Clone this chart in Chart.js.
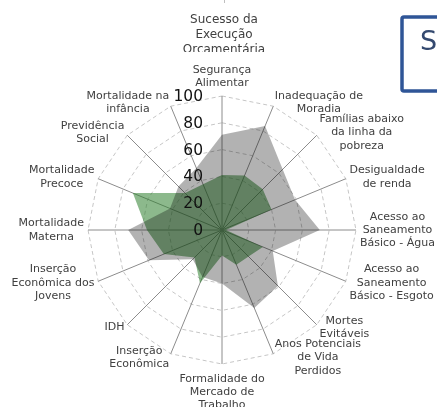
<!DOCTYPE html>
<html lang="pt">
<head>
<meta charset="utf-8">
<title>Radar</title>
<script src="https://cdn.jsdelivr.net/npm/chart.js@4.4.1/dist/chart.umd.min.js"></script>
<style>
    html, body { margin: 0; padding: 0; background: #ffffff; }
    #wrap { width: 437px; height: 407px; position: relative; }
</style>
</head>
<body>
<div id="wrap"><canvas id="radarChart" width="437" height="407"></canvas></div>
<script>
const categories = [
    ['Segurança', 'Alimentar'],
    ['Inadequação de', 'Moradia'],
    ['Famílias abaixo', 'da linha da', 'pobreza'],
    ['Desigualdade', 'de renda'],
    ['Acesso ao', 'Saneamento', 'Básico - Água'],
    ['Acesso ao', 'Saneamento', 'Básico - Esgoto'],
    ['Mortes', 'Evitáveis'],
    ['Anos Potenciais', 'de Vida', 'Perdidos'],
    ['Formalidade do', 'Mercado de', 'Trabalho'],
    ['Inserção', 'Econômica'],
    ['IDH'],
    ['Inserção', 'Econômica dos', 'Jovens'],
    ['Mortalidade', 'Materna'],
    ['Mortalidade', 'Precoce'],
    ['Previdência', 'Social'],
    ['Mortalidade na', 'infância']
];
const seriesNames = ['Série 1', 'Série 2'];
const grayValues = [71, 84, 64, 59, 73, 41, 59, 63, 40, 38, 31, 59, 70, 42, 46, 50];
const greenValues = [41, 44, 43, 40, 3, 33, 28, 28, 19, 43, 29, 47, 56, 72, 39, 37];
const tickValues = [0, 20, 40, 60, 80, 100];
const neighbourTitle = ['Sucesso da', 'Execução', 'Orçamentária'];
const boxTitle = 'S';

document.addEventListener("DOMContentLoaded", function () {

    function drawTicks(ctx, scale) {
        ctx.save();
        ctx.font = '15.5px "DejaVu Sans"';
        ctx.fillStyle = '#111111';
        ctx.textAlign = 'right';
        ctx.textBaseline = 'middle';
        tickValues.forEach(value => {
            const y = scale.yCenter - scale.getDistanceFromCenterForValue(value);
            ctx.fillText(String(value), scale.xCenter - 19, y + 1);
        });
        ctx.restore();
    }

    function drawPointLabels(ctx, scale, width) {
        const count = categories.length;
        const lineHeight = 13.3;
        ctx.save();
        ctx.font = '11px "DejaVu Sans"';
        ctx.fillStyle = '#404040';
        ctx.textAlign = 'center';
        ctx.textBaseline = 'middle';
        categories.forEach((lines, i) => {
            const rad = i * 2 * Math.PI / count;
            const sin = Math.sin(rad);
            const cos = Math.cos(rad);
            const pos = scale.getPointPosition(i, scale.drawingArea + 4);
            const w = Math.max(...lines.map(line => ctx.measureText(line).width));
            const h = lines.length * lineHeight;

            let left;
            if (sin > 0.01) {
                left = pos.x;
            } else if (sin < -0.01) {
                left = pos.x - w;
            } else {
                left = pos.x - w / 2;
            }
            left = Math.min(Math.max(left, 2), width - 2 - w);

            let top;
            if (cos > 0.99) {
                top = pos.y - 2 - h;
            } else if (cos < -0.99) {
                top = pos.y + 4;
            } else {
                top = pos.y - h / 2;
            }

            lines.forEach((line, j) => {
                ctx.fillText(line, left + w / 2, top + lineHeight * (j + 0.5));
            });
        });
        ctx.restore();
    }

    // bits of the neighbouring chart and title box that the crop cuts through
    function drawNeighbours(ctx, chart) {
        ctx.save();
        ctx.beginPath();
        ctx.rect(0, 0, chart.width, 52);
        ctx.clip();
        ctx.strokeStyle = '#bfbfbf';
        ctx.setLineDash([3, 3]);
        ctx.beginPath();
        ctx.moveTo(224.5, 0);
        ctx.lineTo(224.5, 6);
        ctx.stroke();
        ctx.setLineDash([]);
        ctx.font = '12px "DejaVu Sans"';
        ctx.fillStyle = '#404040';
        ctx.textAlign = 'center';
        ctx.textBaseline = 'middle';
        neighbourTitle.forEach((line, j) => {
            ctx.fillText(line, 224, 19.5 + j * 15);
        });
        ctx.restore();

        ctx.save();
        ctx.strokeStyle = '#2f5597';
        ctx.lineWidth = 3.5;
        ctx.beginPath();
        ctx.moveTo(445, 17);
        ctx.lineTo(404, 17);
        ctx.quadraticCurveTo(402, 17, 402, 19);
        ctx.lineTo(402, 89);
        ctx.quadraticCurveTo(402, 91, 404, 91);
        ctx.lineTo(445, 91);
        ctx.stroke();
        ctx.font = '27px "DejaVu Sans"';
        ctx.fillStyle = '#34496f';
        ctx.textAlign = 'left';
        ctx.textBaseline = 'alphabetic';
        ctx.fillText(boxTitle, 420, 50);
        ctx.restore();
    }

    const overlayPlugin = {
        id: 'overlay',
        afterDatasetsDraw(chart) {
            const ctx = chart.ctx;
            const scale = chart.scales.r;
            drawTicks(ctx, scale);
            drawPointLabels(ctx, scale, chart.width);
            drawNeighbours(ctx, chart);
        }
    };

    const ctx = document.getElementById('radarChart').getContext('2d');
    new Chart(ctx, {
        type: 'radar',
        data: {
            labels: categories,
            datasets: [{
                label: seriesNames[0],
                data: grayValues,
                backgroundColor: 'rgba(0, 0, 0, 0.3)',
                borderColor: 'rgba(0, 0, 0, 0)',
                borderWidth: 0,
                pointRadius: 0,
                fill: true
            }, {
                label: seriesNames[1],
                data: greenValues,
                backgroundColor: 'rgba(46, 128, 46, 0.55)',
                borderColor: 'rgba(0, 0, 0, 0)',
                borderWidth: 0,
                pointRadius: 0,
                fill: true
            }]
        },
        options: {
            responsive: false,
            animation: false,
            devicePixelRatio: 1,
            layout: {
                padding: { left: 88, right: 81, top: 96, bottom: 43 }
            },
            scales: {
                r: {
                    min: 0,
                    max: 100,
                    ticks: { display: false, stepSize: 20 },
                    pointLabels: { display: false },
                    grid: { color: '#c6c6c6', lineWidth: 1 },
                    border: { dash: [4, 3] },
                    angleLines: { color: '#8c8c8c', lineWidth: 1 }
                }
            },
            plugins: {
                legend: { display: false },
                tooltip: { enabled: false }
            }
        },
        plugins: [overlayPlugin]
    });
});
</script>
</body>
</html>
